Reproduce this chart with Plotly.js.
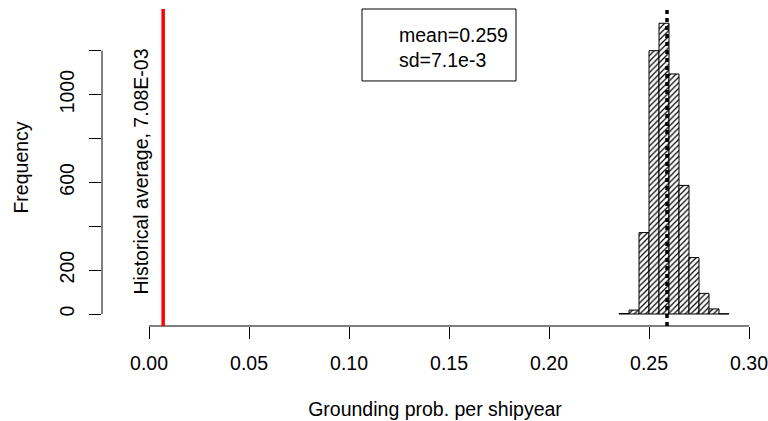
<!DOCTYPE html>
<html>
<head>
<meta charset="utf-8">
<script src="https://cdn.plot.ly/plotly-3.0.1.min.js"></script>
<style>
html,body{margin:0;padding:0;background:#fff;}
#chart{width:768px;height:421px;}
</style>
</head>
<body>
<div id="chart"></div>
<script>
// Histogram bins (left edges) and counts
var binStarts = [0.235, 0.240, 0.245, 0.250, 0.255, 0.260, 0.265, 0.270, 0.275, 0.280, 0.285];
var counts    = [2, 18, 371, 1200, 1325, 1094, 586, 257, 94, 23, 1];
var binWidth = 0.005;
var meanValue = 0.259;
var sdText = "7.1e-3";
var historicalAvg = 0.00708;
var historicalLabel = "Historical average, 7.08E-03";
var xTickVals = [0, 0.05, 0.10, 0.15, 0.20, 0.25, 0.30];
var xTickText = ["0.00", "0.05", "0.10", "0.15", "0.20", "0.25", "0.30"];
var yTickVals = [0, 200, 400, 600, 800, 1000, 1200];
var yTickText = ["0", "200", "", "600", "", "1000", ""];

var FONT = "Liberation Sans, Arial, sans-serif";
var FS = 19.5;

var centers = binStarts.map(function(b){ return b + binWidth/2; });

var trace = {
  type: 'bar',
  x: centers,
  y: counts,
  width: binWidth,
  marker: {
    color: 'white',
    line: {color: 'black', width: 1},
    pattern: {shape: '/', fgcolor: 'black', bgcolor: 'white', size: 4, solidity: 0.3, fillmode: 'replace'}
  },
  hoverinfo: 'x+y',
  showlegend: false
};

var layout = {
  width: 768, height: 421,
  margin: {l: 102, r: 0, t: 9, b: 95},
  paper_bgcolor: 'white', plot_bgcolor: 'white',
  font: {family: FONT, size: FS, color: 'black'},
  bargap: 0,
  xaxis: {
    range: [-0.0235, 0.3095],
    tickvals: xTickVals, ticktext: xTickText,
    ticks: 'outside', ticklen: 12, tickwidth: 1, tickcolor: 'black',
    ticklabelstandoff: 8,
    ticklabeloverflow: 'allow',
    showgrid: false, zeroline: false, showline: false,
    tickfont: {family: FONT, size: FS, color: 'black'},
    title: {text: 'Grounding prob. per shipyear', font: {family: FONT, size: FS, color: 'black'}, standoff: 28}
  },
  yaxis: {
    range: [-54.7, 1390],
    tickvals: yTickVals, ticktext: yTickText,
    tickangle: -90,
    ticks: 'outside', ticklen: 12, tickwidth: 1, tickcolor: 'black',
    ticklabelstandoff: 7,
    showgrid: false, zeroline: false, showline: false,
    tickfont: {family: FONT, size: FS, color: 'black'},
    title: {text: 'Frequency', font: {family: FONT, size: FS, color: 'black'}, standoff: 22}
  },
  shapes: [
    // x axis line from first to last tick
    {type: 'line', xref: 'x', yref: 'paper', x0: xTickVals[0], x1: xTickVals[xTickVals.length-1], y0: 0, y1: 0, line: {color: 'black', width: 1}},
    // y axis line from first to last tick
    {type: 'line', xref: 'paper', yref: 'y', x0: 0, x1: 0, y0: yTickVals[0], y1: yTickVals[yTickVals.length-1], line: {color: 'black', width: 1}},
    // historical average
    {type: 'line', xref: 'x', yref: 'paper', x0: historicalAvg, x1: historicalAvg, y0: 0, y1: 1, line: {color: 'red', width: 3.5}},
    // mean line
    {type: 'line', xref: 'x', yref: 'paper', x0: meanValue, x1: meanValue, y0: 0, y1: 1, line: {color: 'black', width: 3.5, dash: '4px,4px'}, layer: 'above'},
    // legend box
    {type: 'rect', xref: 'paper', yref: 'paper', x0: 0.3904, x1: 0.6216, y0: 0.773, y1: 1, line: {color: 'black', width: 1}, fillcolor: 'rgba(0,0,0,0)'}
  ],
  annotations: [
    {xref: 'paper', yref: 'paper', x: 0.443, y: 0.878, xanchor: 'left', yanchor: 'middle', align: 'left', showarrow: false,
     text: 'mean=' + meanValue + '<br>sd=' + sdText, font: {family: FONT, size: FS, color: 'black'}},
    {xref: 'x', yref: 'y', x: -0.00375, y: 647, textangle: -90, showarrow: false, xanchor: 'center', yanchor: 'middle',
     text: historicalLabel, font: {family: FONT, size: FS, color: 'black'}}
  ]
};

Plotly.newPlot('chart', [trace], layout, {displayModeBar: false, staticPlot: true});
</script>
</body>
</html>
